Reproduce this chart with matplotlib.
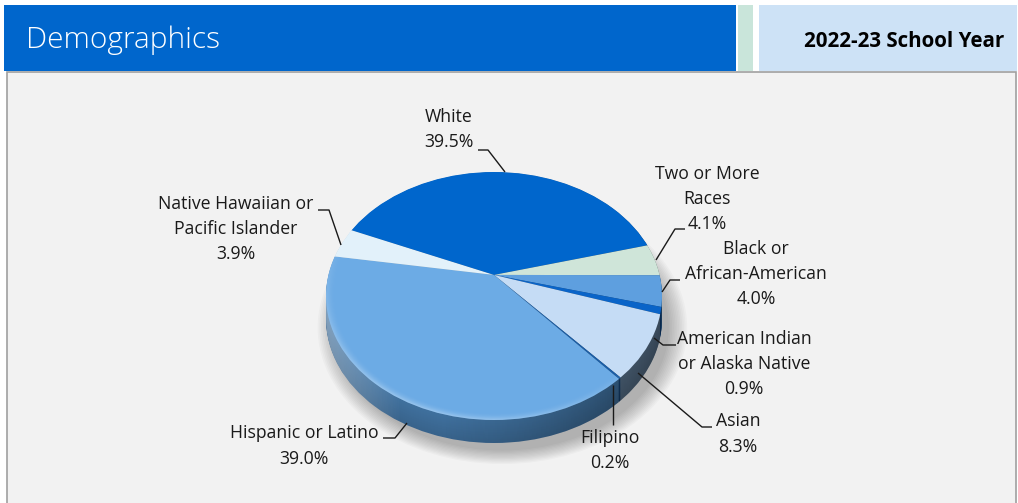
import numpy as np
import matplotlib
matplotlib.use("Agg")
import matplotlib.pyplot as plt
from matplotlib.patches import Rectangle, Circle, Ellipse, PathPatch
from matplotlib.path import Path
import matplotlib.colors as mcolors

# ---------------- data ----------------
categories = ["White", "Two or More\nRaces", "Black or\nAfrican-American",
              "American Indian\nor Alaska Native", "Asian", "Filipino",
              "Hispanic or Latino", "Native Hawaiian or\nPacific Islander"]
percentages = [39.5, 4.1, 4.0, 0.9, 8.3, 0.2, 39.0, 3.9]
title_text = "Demographics"
year_text = "2022-23 School Year"

# ---------------- style ----------------
top_colors = ["#0066cc", "#cfe5d9", "#5e9fdf", "#0a64c8",
              "#c5dcf5", "#1a5ea8", "#6cabe5", "#e2f1fa"]
side_colors = ["#0b3f7a", "#7d9a8c", "#3a6a98", "#0b3f7a",
               "#566f88", "#16406e", "#3d6c98", "#8aa0b0"]

W, H = 1018, 503
CX, CY, RX, RY = 494, 296, 168, 124      # ellipse of top face in pixels
AY = 0.17                                 # apex offset (perspective)
D = 23 / RY                               # thickness
START = 157

fig = plt.figure(figsize=(W / 100, H / 100), dpi=100)
fig.patch.set_facecolor("white")

# background / header
bg = fig.add_axes([0, 0, 1, 1])
bg.set_xlim(0, W)
bg.set_ylim(H, 0)
bg.axis("off")
bg.add_patch(Rectangle((7, 72), 1009, 440, facecolor="#f2f2f2",
                       edgecolor="#a0a0a0", lw=1.2))
bg.add_patch(Rectangle((4, 5), 732, 66, facecolor="#0066cc", edgecolor="none"))
bg.add_patch(Rectangle((738, 5), 15, 66, facecolor="#c9e5da", edgecolor="none"))
bg.add_patch(Rectangle((759, 5), 258, 66, facecolor="#cde2f6", edgecolor="none"))
bg.text(26, 40, title_text, color="white", fontsize=21.5, family="Open Sans",
        weight="light", ha="left", va="center")
bg.text(1004, 41, year_text, color="black", fontsize=14.8, family="Open Sans",
        weight="bold", ha="right", va="center")

# pie axes
ax = fig.add_axes([0, 0, 1, 1], zorder=2)
ax.patch.set_alpha(0)


def set_lims():
    ax.set_xlim((0 - CX) / RX, (W - CX) / RX)
    ax.set_ylim((CY - H) / RY, CY / RY)
    ax.set_aspect("auto")
    ax.axis("off")


# shadow
for k in range(12):
    s = 0.99 + 0.01 * k
    ax.add_patch(Ellipse((0.05, -D - 0.07), 2 * s, 2 * s, facecolor="black",
                         edgecolor="none", alpha=0.022, zorder=0))

# side layers
N = 24
for i, d in enumerate(np.linspace(D, 0.004, N)):
    f = 0.92 + 0.12 * (i / (N - 1))
    cols = [tuple(np.clip(np.array(mcolors.to_rgb(c)) * f, 0, 1)) for c in side_colors]
    wedges, _ = ax.pie(percentages, colors=cols, startangle=START, counterclock=False,
                       center=(0, AY - d), radius=1.5, wedgeprops=dict(linewidth=0))
    clip = Circle((0, -d), 1, transform=ax.transData)
    for w in wedges:
        w.set_clip_on(True)
        w.set_clip_path(clip)
        w.set_zorder(1)

# side lighting gradient
t1 = np.linspace(0, np.pi, 120)
t2 = np.linspace(np.pi, 2 * np.pi, 120)
xs = np.concatenate([np.cos(t1), np.cos(t2)])
ys = np.concatenate([np.sin(t1), np.sin(t2) - D])
side_path = Path(np.column_stack([xs, ys]), closed=False)
gx = np.linspace(-1, 1, 300)
img = np.zeros((2, 300, 4))
white_a = np.clip((-0.55 - gx) / 0.45, 0, 1) * 0.35
black_a = np.clip((gx + 0.3) / 1.3, 0, 1) * 0.35
img[..., :3] = np.where(white_a[None, :, None] > 0, 1.0, 0.0)
img[..., 3] = np.maximum(white_a, black_a)[None, :]
im = ax.imshow(img, extent=(-1, 1, -1 - D, 1), aspect="auto", zorder=1.5,
               interpolation="bilinear")
im.set_clip_path(PathPatch(side_path, transform=ax.transData))

# top face
wedges, _ = ax.pie(percentages, colors=top_colors, startangle=START, counterclock=False,
                   center=(0, AY), radius=1.5, wedgeprops=dict(linewidth=0))
top_clip = Circle((0, 0), 1, transform=ax.transData)
for w in wedges:
    w.set_clip_on(True)
    w.set_clip_path(top_clip)
    w.set_zorder(2)

# rim highlight on top face
gy, gxx = np.mgrid[1:-1:400j, -1:1:400j]
r = np.sqrt(gxx ** 2 + gy ** 2)
ang = np.arctan2(gy, gxx)
rim = np.clip((r - 0.94) / 0.06, 0, 1) ** 2
front = np.clip(-np.sin(ang + 0.5), 0, 1)
himg = np.zeros((400, 400, 4))
himg[..., :3] = 1.0
himg[..., 3] = 0.3 * rim * front
hi = ax.imshow(himg, extent=(-1, 1, -1, 1), aspect="auto", zorder=2.5,
               interpolation="bilinear")
hi.set_clip_path(Circle((0, 0), 1, transform=ax.transData))

set_lims()

# labels and leader lines (pixel layout)
ov = fig.add_axes([0, 0, 1, 1], zorder=3)
ov.patch.set_alpha(0)
ov.set_xlim(0, W)
ov.set_ylim(H, 0)
ov.axis("off")

label_pos = [(449, 129.5), (707, 199), (756, 274), (744, 364),
             (738, 434), (610, 450.5), (304, 446), (236, 229)]
leaders = [
    [(478, 150), (488, 150), (505, 172)],
    [(685, 229), (675, 229), (656, 260)],
    [(680, 280), (670, 280), (662, 292)],
    [(676, 345), (663, 345), (654, 338)],
    [(638, 373), (702, 427), (712, 427)],
    [(613, 385), (613, 425)],
    [(383, 438), (395, 438), (407, 423)],
    [(318, 210), (329, 210), (341, 245)],
]
for cat, pct, (lx, ly), ld in zip(categories, percentages, label_pos, leaders):
    ov.text(lx, ly, f"{cat}\n{pct:.1f}%", ha="center", va="center",
            fontsize=12.7, family="Open Sans", color="#1a1a1a", linespacing=1.5)
    xs_, ys_ = zip(*ld)
    ov.plot(xs_, ys_, color="#1a1a1a", lw=1.0, solid_capstyle="butt")

fig.savefig("out.png", dpi=100)
